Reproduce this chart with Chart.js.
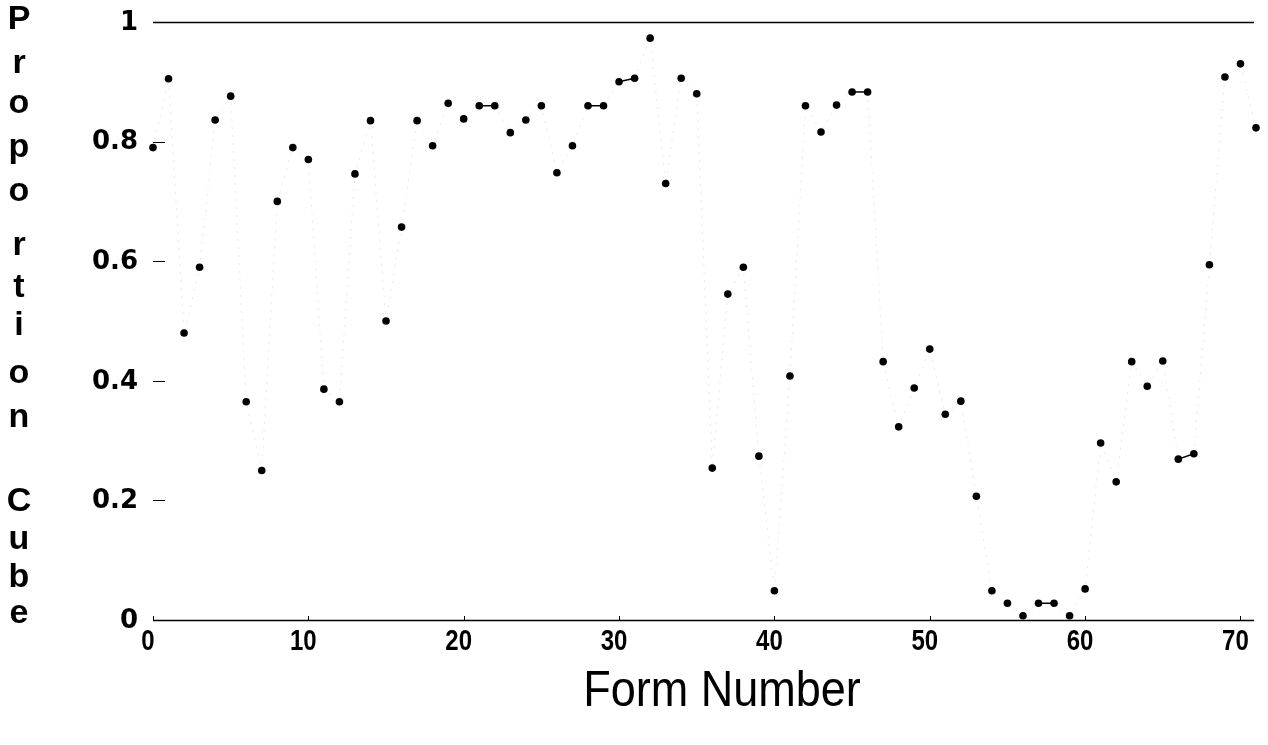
<!DOCTYPE html>
<html lang="en">

<head>
    <meta charset="UTF-8">
    <title>Proportion Cube by Form Number</title>
    <style>
        body {
            margin: 0;
            background: #fff;
        }

        #grafica-box {
            width: 1268px;
            height: 745px;
        }
    </style>
    <script src="https://cdn.jsdelivr.net/npm/chart.js@4/dist/chart.umd.min.js"></script>
</head>

<body>
    <div id="grafica-box"><canvas id="grafica"></canvas></div>
    <script>
        // form numbers and the proportion "cube" for each one
        const forms = [
            0, 1, 2, 3, 4, 5, 6, 7, 8, 9,
            10, 11, 12, 13, 14, 15, 16, 17, 18, 19,
            20, 21, 22, 23, 24, 25, 26, 27, 28, 29,
            30, 31, 32, 33, 34, 35, 36, 37, 38, 39,
            40, 41, 42, 43, 44, 45, 46, 47, 48, 49,
            50, 51, 52, 53, 54, 55, 56, 57, 58, 59,
            60, 61, 62, 63, 64, 65, 66, 67, 68, 69,
            70, 71
        ];
        const proportions = [
            0.79, 0.905, 0.48, 0.59, 0.836, 0.876, 0.365, 0.25, 0.70, 0.79,
            0.77, 0.386, 0.365, 0.746, 0.835, 0.50, 0.657, 0.835, 0.793, 0.864,
            0.838, 0.86, 0.86, 0.815, 0.836, 0.86, 0.748, 0.793, 0.86, 0.86,
            0.90, 0.906, 0.973, 0.73, 0.906, 0.88, 0.254, 0.545, 0.59, 0.274,
            0.049, 0.408, 0.86, 0.816, 0.861, 0.883, 0.883, 0.432, 0.323, 0.388,
            0.453, 0.344, 0.366, 0.207, 0.049, 0.028, 0.007, 0.028, 0.028, 0.007,
            0.052, 0.296, 0.231, 0.432, 0.391, 0.433, 0.269, 0.278, 0.594, 0.908,
            0.93, 0.823
        ];
        const xTicks = [0, 10, 20, 30, 40, 50, 60, 70];
        const yTicks = [0, 0.2, 0.4, 0.6, 0.8, 1];
        const yTitle = "Proportion Cube";
        const xTitle = "Form Number";

        // centre heights of the stacked letters of the y title
        const letterY = [20, 64, 104, 148, 192, 246, 288, 326, 374, 418, 460, 502, 540, 578, 614];

        const puntos = forms.map((f, i) => ({ x: f, y: proportions[i] }));

        // narrow type: squeeze a normal face sideways
        function textoAngosto(ctx, txt, x, y, escala) {
            ctx.save();
            ctx.translate(x, y);
            ctx.scale(escala, 1);
            ctx.fillText(txt, 0, 0);
            ctx.restore();
        }

        // axes, ticks and titles drawn by hand, old plotter style
        const ejes = {
            id: 'ejes',
            afterDraw(chart) {
                const ctx = chart.ctx;
                const xs = chart.scales.x;
                const ys = chart.scales.y;
                const izq = xs.getPixelForValue(0);
                const der = xs.right - 2;
                ctx.save();
                ctx.strokeStyle = '#000';
                ctx.lineWidth = 1.5;

                // full lines at 0 and 1
                [0, 1].forEach(v => {
                    const y = Math.round(ys.getPixelForValue(v)) + 0.5;
                    ctx.beginPath();
                    ctx.moveTo(izq, y);
                    ctx.lineTo(der, y);
                    ctx.stroke();
                });

                // short inward ticks on the y axis
                ctx.lineWidth = 1;
                yTicks.filter(v => v > 0 && v < 1).forEach(v => {
                    const y = Math.round(ys.getPixelForValue(v)) + 0.5;
                    ctx.beginPath();
                    ctx.moveTo(izq, y);
                    ctx.lineTo(izq + 12, y);
                    ctx.stroke();
                });

                // tiny ticks on the x axis
                const y0 = ys.getPixelForValue(0);
                xTicks.forEach(v => {
                    const x = Math.round(xs.getPixelForValue(v)) + 0.5;
                    ctx.beginPath();
                    ctx.moveTo(x, y0);
                    ctx.lineTo(x, y0 - 4);
                    ctx.stroke();
                });

                // y tick labels
                ctx.fillStyle = '#000';
                ctx.font = 'bold 26px "DejaVu Sans"';
                ctx.textAlign = 'right';
                ctx.textBaseline = 'middle';
                yTicks.forEach(v => {
                    ctx.fillText(String(v), 138, ys.getPixelForValue(v) + 1);
                });

                // x tick labels
                ctx.font = 'bold 30px "Liberation Sans"';
                ctx.textAlign = 'center';
                ctx.textBaseline = 'top';
                xTicks.forEach(v => {
                    textoAngosto(ctx, String(v), xs.getPixelForValue(v) - 5, y0 + 7, 0.8);
                });

                // x title
                ctx.font = '50px "Liberation Sans"';
                ctx.textBaseline = 'alphabetic';
                textoAngosto(ctx, xTitle, 722, 706, 0.9);

                // y title, one letter per line
                ctx.font = 'bold 34px "Liberation Sans"';
                ctx.textBaseline = 'middle';
                yTitle.split('').forEach((c, i) => {
                    if (c !== ' ') ctx.fillText(c, 19, letterY[i]);
                });
                ctx.restore();
            }
        };

        // steep joins came out faint and broken, flat ones solid
        const empinado = (c) => Math.abs(c.p1.parsed.y - c.p0.parsed.y) > 0.02;

        const $grafica = document.querySelector("#grafica");
        const myChart = new Chart($grafica, {
            type: 'line',
            data: {
                datasets: [{
                    data: puntos,
                    borderColor: '#000',
                    borderWidth: 1.5,
                    pointRadius: 3.8,
                    pointBackgroundColor: '#000',
                    pointBorderWidth: 0,
                    tension: 0,
                    clip: false,
                    segment: {
                        borderColor: c => empinado(c) ? 'rgba(0,0,0,0.09)' : '#000',
                        borderDash: c => empinado(c) ? [2, 6] : undefined,
                        borderWidth: c => empinado(c) ? 1 : 1.5,
                    }
                }]
            },
            options: {
                responsive: true,
                maintainAspectRatio: false,
                animation: false,
                layout: {
                    padding: { left: 153, right: 12, top: 22, bottom: 125 }
                },
                plugins: {
                    legend: { display: false },
                    tooltip: { enabled: false }
                },
                scales: {
                    x: { type: 'linear', min: 0, max: 71, display: false },
                    y: { min: 0, max: 1, display: false }
                }
            },
            plugins: [ejes]
        });
    </script>
</body>

</html>
